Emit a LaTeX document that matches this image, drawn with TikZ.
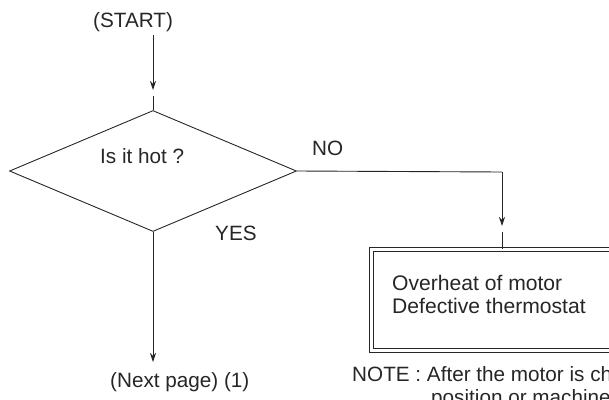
\documentclass[tikz,border=0pt]{standalone}
\usepackage{fontspec}
\setmainfont{Liberation Sans}
\usetikzlibrary{arrows.meta,shapes.geometric}
\begin{document}
\begin{tikzpicture}[x=1pt,y=-1pt,
  every node/.style={font=\fontsize{20.7}{23}\selectfont, inner sep=0pt, text=black!85},
  ln/.style={draw=black!85, line width=0.9pt},
  arr/.style={ln, -{Stealth[length=9pt,width=6pt]}},
  lbl/.style={anchor=base west}]
\useasboundingbox (0,0) rectangle (609,399);
\clip (0,0) rectangle (609,399);
% nodes
\node[lbl] (start) at (93,27) {(START)};
\node[diamond, ln, minimum width=287pt, minimum height=121pt, inner sep=0pt, aspect=2.37] (dia) at (153,171) {};
\node[lbl] (q) at (100,163) {Is it hot ?};
\node[lbl] (no) at (312,155) {NO};
\node[lbl] (yes) at (215,240) {YES};
\node[lbl] (next) at (110,387) {(Next page) (1)};
\node[rectangle, ln, double, double distance=3.1pt, minimum width=290pt, minimum height=101pt, anchor=north west] (box) at (371,249) {};
\node[lbl, font=\fontsize{21.1}{23}\selectfont] (t1) at (392,290) {Overheat of motor};
\node[lbl, font=\fontsize{21.1}{23}\selectfont] (t2) at (392,313) {Defective thermostat};
\node[lbl] (note1) at (352,381) {NOTE : After the motor is ch};
\node[lbl] (note2) at (431,404) {position or machine};
% coordinates
\coordinate (s0) at (153,35);
\coordinate (a1) at (153,90);
\coordinate (a1b) at (153,96);
\coordinate (c1) at (502,172);
\coordinate (a2) at (502,226);
\coordinate (a2b) at (502,232);
\coordinate (a3) at (153,362);
% connectors
\draw[arr] (s0) -- (a1);
\draw[ln] (a1b) -- (dia.north);
\draw[ln] (dia.east) -- (c1);
\draw[arr] (c1) -- (a2);
\draw[ln] (a2b) -- (a2b |- box.north);
\draw[arr] (dia.south) -- (a3);
\end{tikzpicture}
\end{document}
